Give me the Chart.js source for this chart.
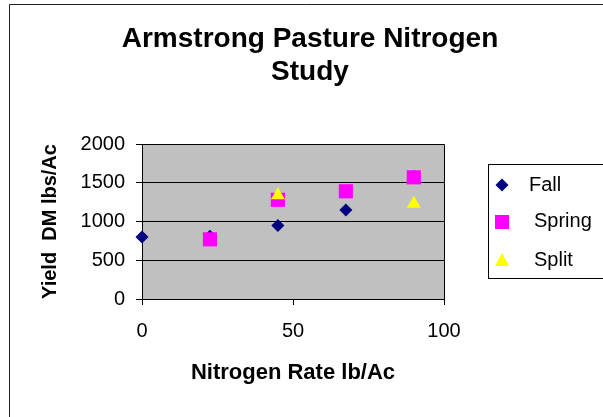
<!DOCTYPE html>
<html>
<head>
<meta charset="utf-8">
<script src="https://cdn.jsdelivr.net/npm/chart.js@4/dist/chart.umd.min.js"></script>
<style>
  body { margin: 0; background: #fff; }
  canvas { display: block; }
</style>
</head>
<body>
<canvas id="myChart" width="603" height="417"></canvas>
<script>
var titleLines = ["Armstrong Pasture Nitrogen", "Study"];
var seriesNames = ["Fall", "Spring", "Split"];
var seriesColors = ["#000080", "#FF00FF", "#FFFF00"];

var fallX = [0, 22.5, 45, 67.5, 90];
var fallY = [800, 810, 950, 1150, 1580];
var springX = [22.5, 45, 67.5, 90];
var springY = [770, 1280, 1390, 1570];
var splitX = [45, 90];
var splitY = [1340, 1230];

var xTicks = [0, 50, 100];
var yTicks = [0, 500, 1000, 1500, 2000];

function toPoints(xs, ys) {
    var pts = [];
    for (var i = 0; i < xs.length; i++) pts.push({x: xs[i], y: ys[i]});
    return pts;
}

var FONT = "'Liberation Sans', Arial, sans-serif";

// grey plot background, frame, outer border, title and legend box
var decor = {
    id: 'decor',
    beforeDraw: function(chart) {
        var ctx = chart.ctx, a = chart.chartArea;
        ctx.save();
        ctx.fillStyle = '#C0C0C0';
        ctx.fillRect(a.left, a.top, a.right - a.left, a.bottom - a.top);
        ctx.restore();
    },
    beforeDatasetsDraw: function(chart) {
        var ctx = chart.ctx, a = chart.chartArea;
        ctx.save();
        ctx.strokeStyle = '#000';
        ctx.lineWidth = 1;
        ctx.beginPath();
        ctx.moveTo(a.left, a.top + 0.5);
        ctx.lineTo(a.right + 0.5, a.top + 0.5);
        ctx.lineTo(a.right + 0.5, a.bottom);
        ctx.stroke();
        ctx.restore();
    },
    afterDraw: function(chart) {
        var ctx = chart.ctx;
        ctx.save();
        // outer chart border (cut off at right/bottom)
        ctx.strokeStyle = '#222';
        ctx.lineWidth = 1;
        ctx.beginPath();
        ctx.moveTo(9.5, 420);
        ctx.lineTo(9.5, 4.5);
        ctx.lineTo(610, 4.5);
        ctx.stroke();

        // title
        ctx.fillStyle = '#000';
        ctx.font = 'bold 28px ' + FONT;
        ctx.textAlign = 'center';
        ctx.textBaseline = 'alphabetic';
        ctx.fillText(titleLines[0], 310, 47);
        ctx.fillText(titleLines[1], 310, 80);

        // legend
        ctx.strokeStyle = '#000';
        ctx.strokeRect(488.5, 164.5, 130, 114);
        var mx = 502, ys = [185, 222, 260];
        ctx.fillStyle = seriesColors[0];
        ctx.beginPath();
        ctx.moveTo(mx, ys[0] - 6.5); ctx.lineTo(mx + 6.5, ys[0]);
        ctx.lineTo(mx, ys[0] + 6.5); ctx.lineTo(mx - 6.5, ys[0]);
        ctx.closePath(); ctx.fill();
        ctx.fillStyle = seriesColors[1];
        ctx.fillRect(mx - 7, ys[1] - 7, 14, 14);
        ctx.fillStyle = seriesColors[2];
        ctx.beginPath();
        ctx.moveTo(mx, ys[2] - 7); ctx.lineTo(mx + 7, ys[2] + 6);
        ctx.lineTo(mx - 7, ys[2] + 6); ctx.closePath(); ctx.fill();

        ctx.fillStyle = '#000';
        ctx.font = '20px ' + FONT;
        ctx.textAlign = 'left';
        ctx.fillText(seriesNames[0], 529, 191);
        ctx.fillText(seriesNames[1], 534, 227);
        ctx.fillText(seriesNames[2], 534, 266);
        ctx.restore();
    }
};

function plainTick(value) { return String(value); }

var ctx = document.getElementById("myChart").getContext('2d');

var myChart = new Chart(ctx, {
    type: 'scatter',
    data: {
        datasets: [{
            label: seriesNames[0],
            data: toPoints(fallX, fallY),
            pointStyle: 'rectRot',
            pointRadius: 6.5,
            backgroundColor: seriesColors[0],
            borderWidth: 0,
            clip: false,
            order: 2
        }, {
            label: seriesNames[1],
            data: toPoints(springX, springY),
            pointStyle: 'rect',
            pointRadius: 10,
            backgroundColor: seriesColors[1],
            borderWidth: 0,
            clip: false,
            order: 1
        }, {
            label: seriesNames[2],
            data: toPoints(splitX, splitY),
            pointStyle: 'triangle',
            pointRadius: 8,
            backgroundColor: seriesColors[2],
            borderWidth: 0,
            clip: false,
            order: 0
        }]
    },
    options: {
        responsive: false,
        animation: false,
        devicePixelRatio: 1,
        layout: { padding: { top: 144, right: 159, left: 0, bottom: 0 } },
        plugins: {
            legend: { display: false },
            title: { display: false },
            tooltip: { enabled: false }
        },
        scales: {
            x: {
                type: 'linear',
                min: 0,
                max: 100,
                afterBuildTicks: function(scale) {
                    scale.ticks = xTicks.map(function(v) { return {value: v}; });
                },
                afterFit: function(scale) { scale.height = 118; },
                grid: { drawOnChartArea: false, drawTicks: true, tickLength: 6, color: '#000' },
                border: { display: true, color: '#000', width: 1 },
                ticks: { color: '#000', padding: 14, callback: plainTick, font: { family: FONT, size: 20 } },
                title: {
                    display: true,
                    text: 'Nitrogen Rate lb/Ac',
                    color: '#000',
                    font: { family: FONT, size: 22, weight: 'bold' },
                    padding: { top: 0, bottom: 31 }
                }
            },
            y: {
                type: 'linear',
                min: 0,
                max: 2000,
                afterBuildTicks: function(scale) {
                    scale.ticks = yTicks.map(function(v) { return {value: v}; });
                },
                afterFit: function(scale) { scale.width = 142; },
                grid: { drawOnChartArea: true, drawTicks: true, tickLength: 6, color: '#000' },
                border: { display: true, color: '#000', width: 1 },
                ticks: { color: '#000', padding: 11, callback: plainTick, font: { family: FONT, size: 20 } },
                title: {
                    display: true,
                    text: 'Yield  DM lbs/Ac',
                    color: '#000',
                    font: { family: FONT, size: 20, weight: 'bold' },
                    padding: { top: 38, bottom: 0 }
                }
            }
        }
    },
    plugins: [decor]
});
</script>
</body>
</html>
